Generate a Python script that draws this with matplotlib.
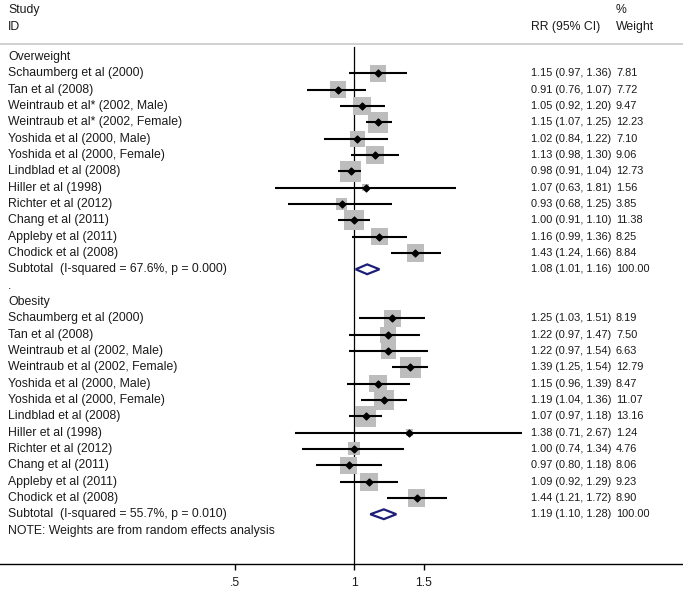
import matplotlib
matplotlib.use("Agg")
import matplotlib.pyplot as plt
import matplotlib.transforms as mtransforms
from matplotlib import font_manager
import numpy as np

plt.rcParams['font.family'] = ['Liberation Sans', 'DejaVu Sans']

# ---- data ----
ow_studies = ["Schaumberg et al (2000)", "Tan et al (2008)", "Weintraub et al* (2002, Male)",
              "Weintraub et al* (2002, Female)", "Yoshida et al (2000, Male)",
              "Yoshida et al (2000, Female)", "Lindblad et al (2008)", "Hiller et al (1998)",
              "Richter et al (2012)", "Chang et al (2011)", "Appleby et al (2011)",
              "Chodick et al (2008)"]
ow_rr = [1.15, 0.91, 1.05, 1.15, 1.02, 1.13, 0.98, 1.07, 0.93, 1.00, 1.16, 1.43]
ow_lo = [0.97, 0.76, 0.92, 1.07, 0.84, 0.98, 0.91, 0.63, 0.68, 0.91, 0.99, 1.24]
ow_hi = [1.36, 1.07, 1.20, 1.25, 1.22, 1.30, 1.04, 1.81, 1.25, 1.10, 1.36, 1.66]
ow_wt = [7.81, 7.72, 9.47, 12.23, 7.10, 9.06, 12.73, 1.56, 3.85, 11.38, 8.25, 8.84]
ow_sub = (1.08, 1.01, 1.16)
ow_sub_label = "Subtotal  (I-squared = 67.6%, p = 0.000)"

ob_studies = ["Schaumberg et al (2000)", "Tan et al (2008)", "Weintraub et al (2002, Male)",
              "Weintraub et al (2002, Female)", "Yoshida et al (2000, Male)",
              "Yoshida et al (2000, Female)", "Lindblad et al (2008)", "Hiller et al (1998)",
              "Richter et al (2012)", "Chang et al (2011)", "Appleby et al (2011)",
              "Chodick et al (2008)"]
ob_rr = [1.25, 1.22, 1.22, 1.39, 1.15, 1.19, 1.07, 1.38, 1.00, 0.97, 1.09, 1.44]
ob_lo = [1.03, 0.97, 0.97, 1.25, 0.96, 1.04, 0.97, 0.71, 0.74, 0.80, 0.92, 1.21]
ob_hi = [1.51, 1.47, 1.54, 1.54, 1.39, 1.36, 1.18, 2.67, 1.34, 1.18, 1.29, 1.72]
ob_wt = [8.19, 7.50, 6.63, 12.79, 8.47, 11.07, 13.16, 1.24, 4.76, 8.06, 9.23, 8.90]
ob_sub = (1.19, 1.10, 1.28)
ob_sub_label = "Subtotal  (I-squared = 55.7%, p = 0.010)"

xticks = [0.5, 1, 1.5]
xtick_labels = [".5", "1", "1.5"]

# ---- layout (rows are the y units) ----
W, H = 683, 593
row_px = 16.33
row0_px = 57.0
x0_px = 354.0
scale_px = 171.5


def row_of(px):
    return (px - row0_px) / row_px


# narrow face for the number columns if it is installed
installed = {f.name for f in font_manager.fontManager.ttflist}
if 'Liberation Sans Narrow' in installed:
    num_font = dict(family=['Liberation Sans Narrow', 'DejaVu Sans'], fontsize=9.2)
else:
    num_font = dict(family=['Liberation Sans', 'DejaVu Sans'], fontsize=7.9)

fig = plt.figure(figsize=(W / 100, H / 100), dpi=100)
ax = fig.add_axes([0, 0, 1, 1])
ax.set_xscale('log')
ax.set_xlim(np.exp(-x0_px / scale_px), np.exp((W - x0_px) / scale_px))
ax.set_ylim(row_of(H), row_of(0))
ax.axis('off')

trans = mtransforms.blended_transform_factory(ax.transAxes, ax.transData)
txt_kw = dict(fontsize=8.8, color='#1a1a1a', va='center', transform=trans)
num_kw = dict(color='#1a1a1a', va='center', transform=trans, **num_font)
lab_x = 8 / W
rr_x = 531 / W
wt_x = 616 / W

# header
ax.text(lab_x, row_of(10), "Study", **txt_kw)
ax.text(lab_x, row_of(27), "ID", **txt_kw)
ax.text(rr_x, row_of(27), "RR (95% CI)", **txt_kw)
ax.text(wt_x, row_of(10), "%", **txt_kw)
ax.text(wt_x, row_of(27), "Weight", **txt_kw)
ax.plot([0, 1], [row_of(44), row_of(44)], color='#c8c8c8', lw=1.2, transform=trans)

axis_row = row_of(564)
ax.plot([1, 1], [row_of(47), axis_row], color='black', lw=0.9, zorder=1)

k = 0.72 * 5.9  # box side (pt) per sqrt(weight)


def draw_group(title, start, studies, rr, lo, hi, wt, sub, sub_label):
    ax.text(lab_x, start, title, **txt_kw)
    rows = np.arange(len(studies)) + start + 1
    ax.scatter(rr, rows, s=[(k ** 2) * w for w in wt], marker='s', color='#bdbdbd',
               linewidths=0, zorder=2)
    ax.hlines(rows, lo, hi, color='black', lw=1.5, zorder=3)
    ax.scatter(rr, rows, s=12, marker='D', color='black', zorder=4)
    for r, name, e, l, h, w in zip(rows, studies, rr, lo, hi, wt):
        ax.text(lab_x, r, name, **txt_kw)
        ax.text(rr_x, r, f"{e:.2f} ({l:.2f}, {h:.2f})", **num_kw)
        ax.text(wt_x, r, f"{w:.2f}", **num_kw)
    srow = rows[-1] + 1
    e, l, h = sub
    dh = 0.3
    ax.fill([l, e, h, e, l], [srow, srow - dh, srow, srow + dh, srow], facecolor='white',
            edgecolor='#1c1f78', lw=1.6, zorder=5, joinstyle='miter')
    ax.text(lab_x, srow, sub_label, **txt_kw)
    ax.text(rr_x, srow, f"{e:.2f} ({l:.2f}, {h:.2f})", **num_kw)
    ax.text(wt_x, srow, "100.00", **num_kw)
    return srow


end1 = draw_group("Overweight", 0, ow_studies, ow_rr, ow_lo, ow_hi, ow_wt, ow_sub, ow_sub_label)
ax.text(lab_x, end1 + 1, ".", **txt_kw)
end2 = draw_group("Obesity", end1 + 2, ob_studies, ob_rr, ob_lo, ob_hi, ob_wt, ob_sub, ob_sub_label)
ax.text(lab_x, end2 + 1, "NOTE: Weights are from random effects analysis", **txt_kw)

# x axis
ax.plot([0, 1], [axis_row, axis_row], color='black', lw=1.0, transform=trans)
ax.vlines(xticks, axis_row, axis_row + 6 / row_px, color='black', lw=1.0)
for t, lbl in zip(xticks, xtick_labels):
    ax.text(t, row_of(583), lbl, fontsize=8.8, color='#1a1a1a', ha='center', va='center')

fig.savefig("out.png", dpi=100)
